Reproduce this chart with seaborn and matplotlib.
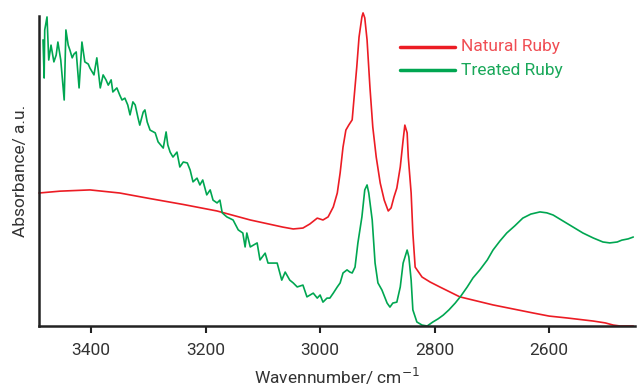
import numpy as np
import pandas as pd
import matplotlib
matplotlib.use("Agg")
import matplotlib.pyplot as plt
import seaborn as sns

# Natural Ruby (red)
natural_wn = [3491, 3454, 3402, 3350, 3297, 3239, 3180, 3122, 3065, 3047, 3030, 3018,
              3005, 2995, 2986, 2977, 2970, 2965, 2960, 2955, 2950, 2944, 2941, 2936,
              2932, 2927, 2925, 2922, 2918, 2913, 2908, 2902, 2895, 2888, 2881, 2876,
              2871, 2866, 2860, 2855, 2852, 2848, 2846, 2841, 2838, 2834, 2822, 2808,
              2791, 2756, 2698, 2628, 2600, 2569, 2523, 2502, 2488, 2476, 2453]
natural_abs = [0.429, 0.435, 0.439, 0.429, 0.411, 0.392, 0.371, 0.342, 0.319, 0.313, 0.316, 0.329,
               0.348, 0.342, 0.352, 0.384, 0.429, 0.494, 0.577, 0.632, 0.648, 0.665, 0.729, 0.835,
               0.932, 0.997, 1.010, 0.994, 0.923, 0.771, 0.642, 0.545, 0.461, 0.406, 0.371, 0.381,
               0.416, 0.445, 0.513, 0.600, 0.648, 0.623, 0.545, 0.429, 0.300, 0.190, 0.158, 0.142,
               0.126, 0.094, 0.068, 0.042, 0.032, 0.026, 0.016, 0.010, 0.003, 0.0, 0.0]

# Treated Ruby (green)
treated_wn = [3484, 3482, 3481, 3477, 3474, 3470, 3465, 3461, 3458, 3453, 3447, 3444, 3440, 3437,
              3433, 3430, 3426, 3421, 3416, 3411, 3405, 3402, 3395, 3390, 3384, 3379, 3374, 3370,
              3365, 3362, 3355, 3350, 3346, 3341, 3336, 3332, 3327, 3323, 3318, 3315, 3309, 3306,
              3302, 3297, 3288, 3283, 3274, 3269, 3266, 3262, 3257, 3250, 3245, 3239, 3232, 3227,
              3222, 3215, 3210, 3205, 3198, 3192, 3187, 3180, 3175, 3171, 3163, 3152, 3143, 3135,
              3131, 3128, 3122, 3110, 3105, 3096, 3091, 3075, 3067, 3061, 3053, 3047, 3040, 3030,
              3023, 3012, 3005, 3000, 2995, 2988, 2983, 2977, 2970, 2965, 2960, 2953, 2948, 2944,
              2939, 2934, 2927, 2922, 2918, 2915, 2909, 2904, 2899, 2892, 2883, 2878, 2873, 2866,
              2860, 2855, 2848, 2845, 2841, 2838, 2831, 2822, 2813, 2803, 2794, 2785, 2775, 2764,
              2754, 2743, 2733, 2721, 2708, 2698, 2686, 2674, 2660, 2646, 2632, 2616, 2604, 2593,
              2576, 2558, 2541, 2523, 2506, 2494, 2481, 2473, 2462, 2453]
treated_abs = [0.923, 0.800, 0.955, 0.997, 0.858, 0.906, 0.852, 0.874, 0.916, 0.858, 0.729, 0.955,
               0.906, 0.890, 0.865, 0.877, 0.884, 0.768, 0.916, 0.852, 0.845, 0.832, 0.810, 0.865,
               0.768, 0.810, 0.794, 0.777, 0.794, 0.755, 0.768, 0.745, 0.729, 0.735, 0.713, 0.681,
               0.723, 0.713, 0.671, 0.648, 0.690, 0.697, 0.658, 0.632, 0.623, 0.594, 0.574, 0.626,
               0.584, 0.561, 0.545, 0.561, 0.513, 0.529, 0.526, 0.503, 0.465, 0.477, 0.455, 0.471,
               0.423, 0.439, 0.406, 0.397, 0.406, 0.365, 0.352, 0.342, 0.310, 0.300, 0.255, 0.300,
               0.255, 0.268, 0.213, 0.235, 0.203, 0.203, 0.148, 0.174, 0.148, 0.139, 0.126, 0.132,
               0.094, 0.106, 0.090, 0.100, 0.077, 0.090, 0.090, 0.106, 0.126, 0.139, 0.171, 0.181,
               0.174, 0.171, 0.190, 0.268, 0.352, 0.439, 0.455, 0.429, 0.342, 0.203, 0.139, 0.116,
               0.074, 0.061, 0.074, 0.077, 0.126, 0.203, 0.245, 0.223, 0.148, 0.052, 0.013, 0.003,
               0.0, 0.013, 0.023, 0.035, 0.052, 0.074, 0.097, 0.126, 0.155, 0.181, 0.213, 0.245,
               0.274, 0.300, 0.323, 0.348, 0.361, 0.368, 0.365, 0.358, 0.339, 0.319, 0.300, 0.284,
               0.271, 0.268, 0.271, 0.277, 0.281, 0.287]

series_labels = ["Natural Ruby", "Treated Ruby"]
x_ticks = [3400, 3200, 3000, 2800, 2600]

sns.set_style("ticks")
plt.rcParams['font.family'] = ['Roboto', 'DejaVu Sans']

red = "#ec1c24"
green = "#00a651"
red_txt = "#f04e54"
green_txt = "#1aa85a"

fig = plt.figure(figsize=(6.37, 3.88), dpi=100)
ax = fig.add_axes([39/637, 62/388, 596/637, 310/388])

df_n = pd.DataFrame({"wn": natural_wn, "abs": natural_abs})
df_t = pd.DataFrame({"wn": treated_wn, "abs": treated_abs})
sns.lineplot(data=df_n, x="wn", y="abs", ax=ax, color=red, lw=1.2, sort=False,
             estimator=None, clip_on=False, solid_joinstyle="round")
sns.lineplot(data=df_t, x="wn", y="abs", ax=ax, color=green, lw=1.2, sort=False,
             estimator=None, clip_on=False, solid_joinstyle="round")

ax.set_xlim(3491, 2450)
ax.set_ylim(0, 1.0)
ax.set_yticks([])
ax.set_xticks(x_ticks)
ax.set_xticklabels([str(t) for t in x_ticks])
ax.tick_params(axis="x", direction="out", length=5, width=1.5, colors="#222222",
               labelsize=12.5, labelcolor="#333333", pad=7)
for s in ["top", "right"]:
    ax.spines[s].set_visible(False)
for s in ["left", "bottom"]:
    ax.spines[s].set_color("#222222")
    ax.spines[s].set_linewidth(1.8)

ax.set_xlabel("Wavennumber/ cm$^{-1}$", fontsize=12.5, color="#333333", labelpad=6)
ax.set_ylabel("Absorbance/ a.u.", fontsize=12.5, color="#333333", labelpad=8)

# legend drawn as lines + colored text in axes-fraction coordinates
for i, (lab, c, tc) in enumerate(zip(series_labels, [red, green], [red_txt, green_txt])):
    yy = 1 - (31 + 23 * i) / 310
    ax.plot([(400-39)/596, (455-39)/596], [yy, yy], transform=ax.transAxes,
            color=c, lw=2.5, clip_on=False)
    ax.text((461-39)/596, yy, lab, transform=ax.transAxes, color=tc,
            fontsize=12.5, va="center", ha="left")

fig.savefig("out.png", dpi=100)
